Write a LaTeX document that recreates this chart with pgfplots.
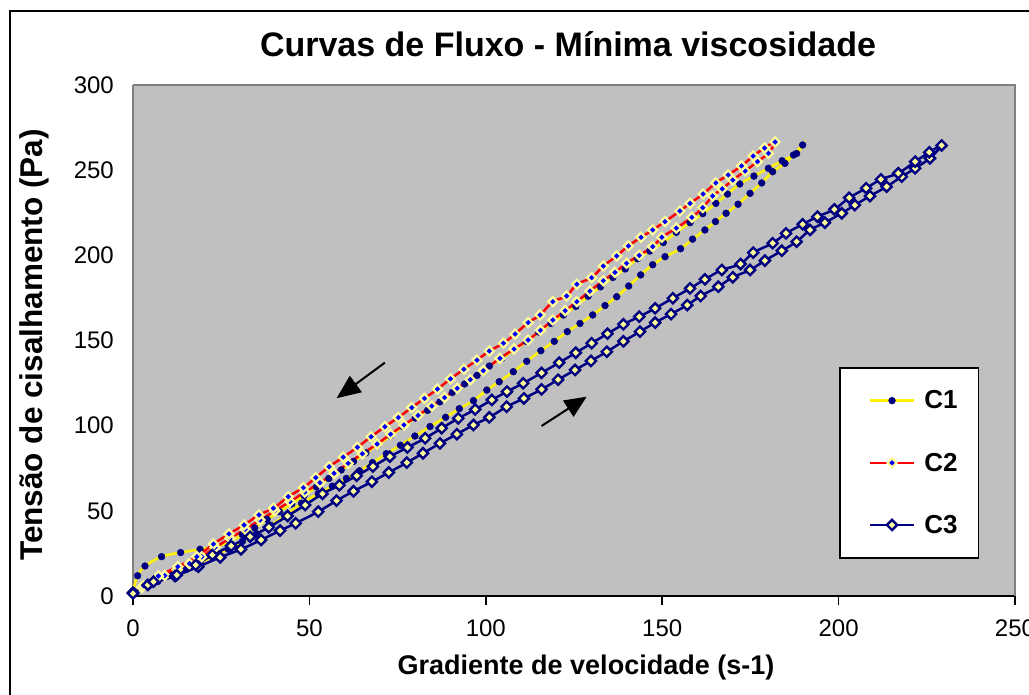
\documentclass[border=0pt]{standalone}
\usepackage{fontspec}
\setmainfont{Liberation Sans}
\usepackage{pgfplots}
\pgfplotsset{compat=1.18}
\usetikzlibrary{arrows.meta}
\definecolor{plotgray}{RGB}{192,192,192}
\definecolor{navy}{RGB}{0,0,128}
\definecolor{paleyellow}{RGB}{255,255,153}
\definecolor{axgray}{RGB}{128,128,128}
\begin{document}
\begin{tikzpicture}[x=1pt,y=1pt]
\useasboundingbox (0,0) rectangle (1029,695);
\draw[line width=2.5pt] (10,-20) -- (10,684) -- (1060,684);
\node[font=\bfseries\fontsize{34}{40}\selectfont, anchor=base] at (568,638) {Curvas de Fluxo - Mínima viscosidade};
\node[font=\bfseries\fontsize{27}{32}\selectfont, anchor=base] at (586,20) {Gradiente de velocidade (s-1)};
\node[font=\bfseries\fontsize{31.5}{36}\selectfont, anchor=base, rotate=90] at (43,350) {Tensão de cisalhamento (Pa)};
\begin{axis}[
  at={(133pt,99pt)}, anchor=south west,
  scale only axis, width=882pt, height=511pt,
  xmin=0, xmax=250, ymin=0, ymax=300,
  xtick={0,50,...,250}, ytick={0,50,...,300},
  axis background/.style={fill=plotgray},
  axis x line*=bottom, axis y line*=left,
  x axis line style={line width=2.5pt, black},
  y axis line style={line width=1.5pt, axgray},
  tick align=outside,
  major tick length=9pt,
  x tick style={line width=1.5pt, black},
  y tick style={draw=none},
  tick label style={font=\fontsize{24}{28}\selectfont, inner sep=0pt},
  /pgf/number format/assume math mode=true,
  xticklabel style={anchor=north, yshift=-15pt},
  yticklabel style={anchor=east, xshift=-10pt},
  clip=false,
  legend style={at={(rel axis cs:0.8005,0.448)}, anchor=north west,
    draw=black, line width=1.5pt, fill=white,
    inner xsep=21pt, inner ysep=23pt, row sep=42.5pt,
    nodes={inner sep=0pt},
    font=\bfseries\fontsize{26}{30}\selectfont},
  legend cell align=left,
  legend image code/.code={\path (-8pt,0pt); \draw[mark repeat=2,mark phase=2] plot coordinates {(0pt,0pt) (22pt,0pt) (44pt,0pt)}; \path (53pt,0pt);},
]
\draw[axgray, line width=1.5pt] (rel axis cs:0,1) -- (rel axis cs:1,1) -- (rel axis cs:1,0);
% C1
\addplot[color=yellow, line width=2.5pt, smooth, mark=*, mark size=3.4pt,
  mark options={draw=navy, fill=navy, line width=0.5pt}] coordinates {
(0,2) (3,5) (7,8.5) (11,12) (15,15.5) (19,19.5) (23,23.5) (27,27.5) (31,32) (35,36.5)
(39,41.5) (43,47) (47.8,54.5) (52.5,60) (56.5,64.5) (60.5,69) (64.2,73.5) (67.9,78.3)
(71.8,83.5) (75.8,88.5) (79.9,93.9) (84.2,99.5) (88.6,104.9) (92.5,110) (96.5,114.7)
(100.3,120.9) (103.8,125.8) (107.8,131.7) (111.6,137.8) (115.6,144) (119.4,149.5)
(123.1,155.2) (126.7,160) (130.3,165) (133.8,170.5) (137.1,175.7) (140.5,182)
(143.9,188.5) (147.3,194.5) (150.8,199.2) (155.2,203.9) (158.6,209.5) (162.1,214.9)
(165.1,219.8) (168.1,224.7) (171.5,230) (174.9,236.4) (178.2,242.5) (181.3,249.1)
(184.8,254) (187.2,258.9) (189.8,264.8)
(188.1,259.8) (184,255.5) (180.1,251.1) (176,246.5) (172,241.9) (168.5,236) (165.2,230.5)
(161.5,224.5) (157.9,219.2) (154,213.5) (150.3,207.5) (146.5,202.5) (143,198) (139.5,192)
(136,187) (132.5,181.5) (129,176) (125.5,170) (122,165) (118.5,160) (115,155) (111.5,149.5)
(108,144.5) (104.5,139.5) (101,135) (97.5,129.5) (94,124.5) (90.5,119.5) (87,114)
(83.5,109) (80,104.5) (76.5,99.5) (73,94) (69.5,89) (66,84) (62.5,79) (59,74) (55.5,69)
(52,64) (48.5,59) (45,54) (41.5,49.5) (38,45) (34.5,40) (31,36) (27.5,32) (23.5,29)
(19,27.4) (13.5,25.5) (8.1,23.1) (3.4,17.6) (1.3,11.9) (0,3)
};
\addlegendentry{C1}
% C2
\addplot[color=red, line width=2.5pt, smooth, mark=square*, mark size=3.2pt,
  mark options={draw=paleyellow, fill=blue, line width=2.2pt, rotate=45}] coordinates {
(0,2) (2.5,5) (5.5,8.5) (9,12) (12.5,15.5) (16,19) (19.5,23) (23.3,28.5) (27.5,33.9)
(31.8,39.2) (36,44.6) (40.2,50) (44.5,55.4) (48.7,61) (53,66.5) (57,72) (61,77.9)
(65,83.5) (69.2,89.2) (73,95) (76.8,100.4) (80.8,106) (84.7,111.5) (88.3,116.5)
(91.9,121.9) (95.6,127) (99.3,132.3) (104,139.5) (108,145) (112,150.3) (115.5,156)
(119,162) (122.5,167.5) (125.8,172.8) (129.5,179) (133.3,185.1) (136.6,190) (139.9,195.3)
(143.5,200) (147.3,205.1) (149.9,210.6) (154,216) (158.4,222.3) (161.5,228) (164.3,234.8)
(167,239) (170,244.2) (173.5,249.5) (177,255) (180.1,259.9) (182,266.5)
(179,263) (175.8,258.3) (172.5,252.5) (168.7,247.2) (165.2,242.5) (161.6,236) (157.9,230.5)
(155,226) (150.8,219.8) (147.3,214.9) (144,210.6) (140.4,205.5) (137.1,199.6) (133.3,193.7)
(130,186.9) (125.8,183) (122.9,176.1) (119,172.8) (115.4,165) (112,160.5) (108.3,153.8)
(105,148.4) (101,143.8) (97.5,138.5) (93.8,133.1) (90,127.5) (86.3,121.5) (82.6,116)
(79,110.6) (75.2,104.8) (71.4,99.4) (67.5,93.5) (63.6,87.3) (59.6,81.5) (55.6,75.9)
(51.8,69.5) (48.3,63.6) (44,58.3) (39.8,51.5) (35.7,47.6) (31.5,41.7) (27.2,36.4)
(22.8,30.5) (18.1,23.1) (12.7,17.2) (7.2,11.7) (3,6) (0,2)
};
\addlegendentry{C2}
% C3
\addplot[color=navy, line width=2.5pt, smooth, mark=square*, mark size=3.6pt,
  mark options={draw=navy, fill=paleyellow, line width=2.4pt, rotate=45}] coordinates {
(0,2) (4.2,6.5) (11.9,11.7) (18.5,17.2) (24.7,22.7) (30.6,27.4) (36.3,32.9) (41.7,38.4)
(46.1,42.7) (52.5,49.5) (57.7,56) (62.5,61.5) (67.7,67.1) (72.5,72.5) (77.6,78.3)
(82.2,83.8) (87,89.6) (91.8,95) (96.5,100.4) (101,104.9) (105.9,111.1) (110.8,116)
(115.8,121.3) (120.5,127) (125.3,132.7) (129.8,138) (134.3,143.4) (139,149.5)
(143.7,155.2) (148,160.5) (152.5,165.5) (157.1,170.8) (160.9,176.1) (165.9,181.6)
(170,187.1) (174.9,191.4) (179.1,196.9) (183.9,202.7) (188.1,208) (191.9,214.9)
(196.1,219.2) (200.9,224.7) (204.6,229.5) (208.9,234.8) (213.6,240.3) (217.9,246.2)
(221.7,251.1) (225.9,257) (229.2,264.5)
(225.7,260.5) (221.7,255) (216.9,248.2) (212,244.6) (207.8,239.4) (203,233.8) (198.8,227)
(194,222.7) (189.8,218.2) (185.1,212.9) (181.3,207.1) (175.8,201.6) (172.2,194.9)
(166.9,191.4) (162.1,185.9) (157.9,180.6) (153,174.8) (148,168.9) (143.5,164) (139,159.5)
(134.5,154) (130,148.4) (125.5,142.8) (120.8,137) (115.8,131) (110.6,124.9) (106,120)
(101.7,115.1) (97,109.5) (92.2,104.3) (87.5,98.5) (82.8,92.6) (77.8,87.2) (72.8,81.8)
(68,76) (63.4,70.6) (58.5,65) (53.7,60) (48.8,53.4) (43.8,47) (38.5,40.3) (33.2,34.8)
(27.8,29.4) (22.5,24.1) (17.8,18.2) (12.4,12.3) (5.8,8.4) (0,1.5)
};
\addlegendentry{C3}
\draw[line width=2pt, -{Triangle[length=24pt,width=20pt]}] (axis cs:71.4,137) -- (axis cs:57.7,116.1);
\draw[line width=2pt, -{Triangle[length=22pt,width=19pt]}] (axis cs:115.8,99.8) -- (axis cs:128.6,117);
\end{axis}
\end{tikzpicture}
\end{document}
